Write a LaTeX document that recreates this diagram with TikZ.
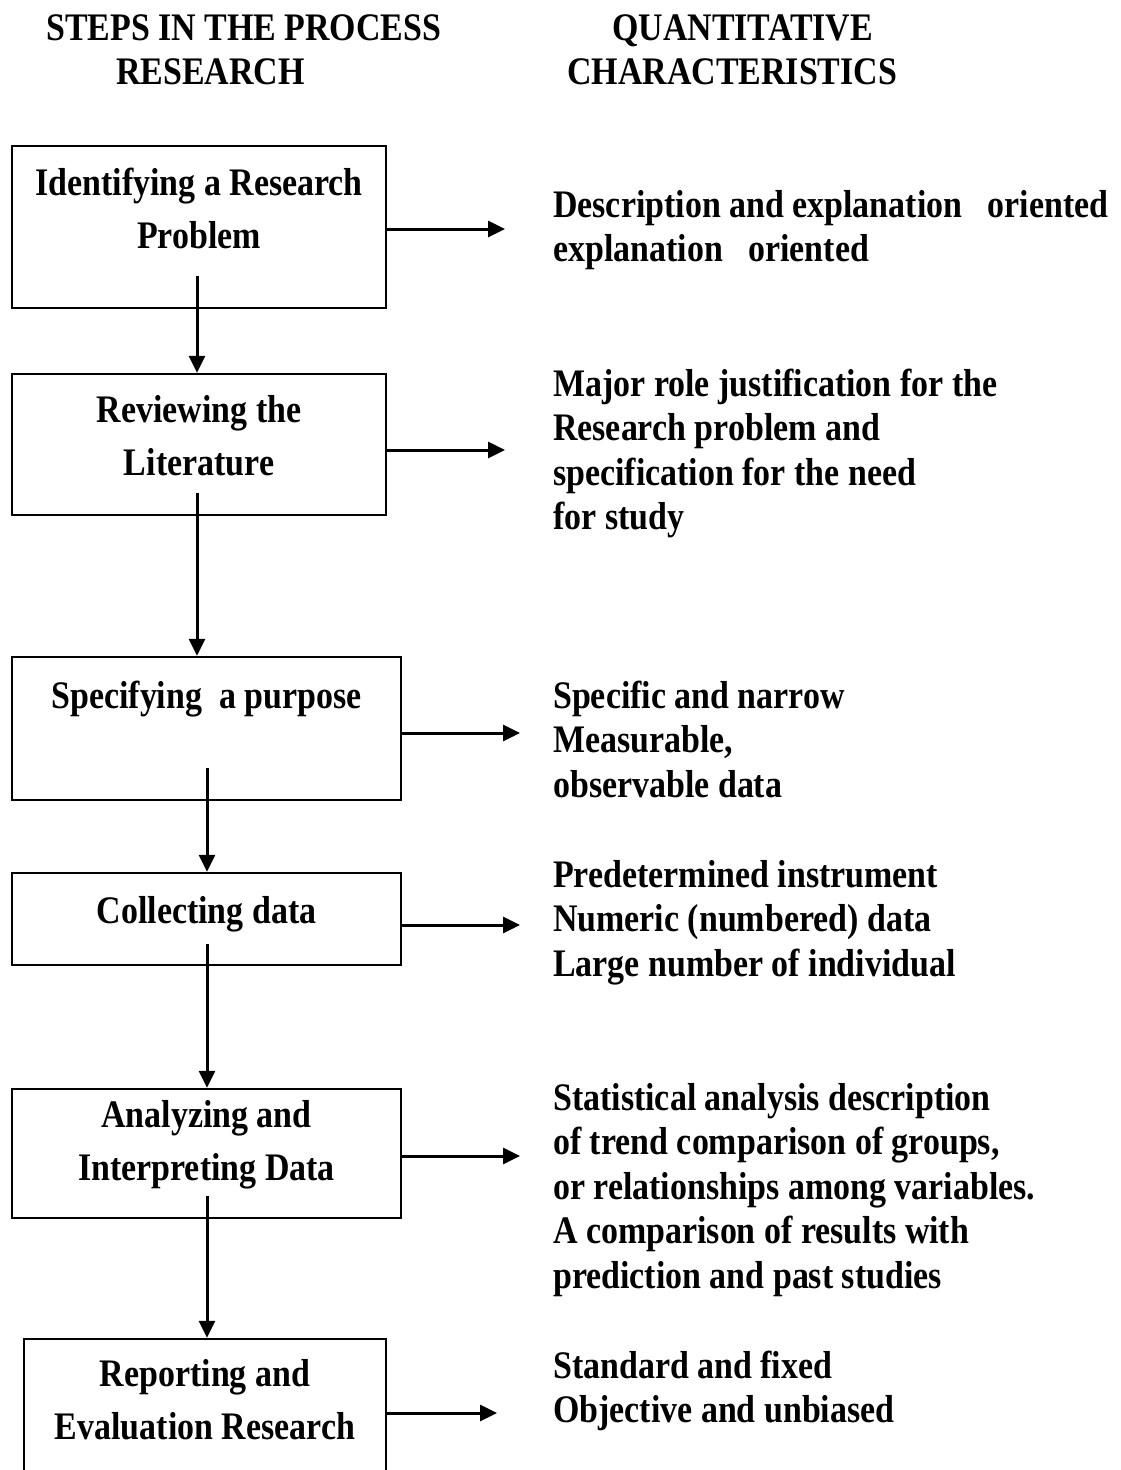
\documentclass[tikz,border=0pt]{standalone}
\usepackage{fontspec}
\setmainfont{Liberation Serif}[FakeStretch=0.87]
\usetikzlibrary{positioning,arrows.meta}

\begin{document}
\begin{tikzpicture}[x=1pt,y=-1pt,
		stepbox/.style={draw, line width=2.5pt, inner sep=0pt},
		steptext/.style={font=\bfseries\fontsize{39}{52.5}\selectfont, align=center, inner sep=0pt, anchor=base},
		chartext/.style={font=\bfseries\fontsize{39}{44.5}\selectfont, align=left, inner sep=0pt, anchor=base west},
		headtext/.style={font=\bfseries\fontsize{39}{44}\selectfont, align=left, inner sep=0pt, anchor=base west},
		arr/.style={-{Triangle[length=17pt,width=16pt]}, line width=3pt}]
	\useasboundingbox (0,0) rectangle (1121,1470);
	\pgfmathsetmacro{\CharX}{553}
	% HEADINGS (anchored at the last line)
	\node[headtext] (steps) at (46,84) {STEPS IN THE PROCESS\\\hspace*{70pt}RESEARCH};
	\node[headtext] (quant) at (567,84) {\hspace*{45pt}QUANTITATIVE\\CHARACTERISTICS};
	% STEP BOXES
	\node[stepbox, minimum width=374, minimum height=162] (s1) at (199,227) {};
	\node[stepbox, minimum width=374, minimum height=141] (s2) at (199,444.5) {};
	\node[stepbox, minimum width=389, minimum height=143] (s3) at (206.5,728.5) {};
	\node[stepbox, minimum width=389, minimum height=92] (s4) at (206.5,919) {};
	\node[stepbox, minimum width=389, minimum height=129] (s5) at (206.5,1153.5) {};
	\node[stepbox, minimum width=362, minimum height=150] (s6) at (205,1414) {};
	\node[steptext] (t1) at (199,248) {Identifying a Research\\Problem};
	\node[steptext] (t2) at (199,475) {Reviewing the\\Literature};
	\node[steptext] (t3) at (206.5,708) {Specifying\ \ a purpose};
	\node[steptext] (t4) at (206.5,923) {Collecting data};
	\node[steptext] (t5) at (206.5,1180) {Analyzing and\\Interpreting Data};
	\node[steptext] (t6) at (205,1439) {Reporting and\\Evaluation Research};
	% CHARACTERISTICS (anchored at the last line)
	\node[chartext] (c1) at (\CharX,261.5) {Description and explanation\ \ \ oriented\\explanation\ \ \ oriented};
	\node[chartext] (c2) at (\CharX,529.5) {Major role justification for the\\Research problem and\\specification for the need\\for study};
	\node[chartext] (c3) at (\CharX,797) {Specific and narrow\\Measurable,\\observable data};
	\node[chartext] (c4) at (\CharX,976) {Predetermined instrument\\Numeric (numbered) data\\Large number of individual};
	\node[chartext] (c5) at (\CharX,1288) {Statistical analysis description\\of trend comparison of groups,\\or relationships among variables.\\A comparison of results with\\prediction and past studies};
	\node[chartext] (c6) at (\CharX,1422.5) {Standard and fixed\\Objective and unbiased};
	% DOWN ARROWS
	\draw[arr] (197,276) -- (s2.north -| 197,0);
	\draw[arr] (197,493) -- (s3.north -| 197,0);
	\draw[arr] (207,768) -- (s4.north -| 207,0);
	\draw[arr] (207,944) -- (s5.north -| 207,0);
	\draw[arr] (207,1196) -- (s6.north -| 207,0);
	% SIDE ARROWS
	\draw[arr] (s1.east |- 0,229) -- (505,229);
	\draw[arr] (s2.east |- 0,450) -- (505,450);
	\draw[arr] (s3.east |- 0,733) -- (520,733);
	\draw[arr] (s4.east |- 0,925) -- (520,925);
	\draw[arr] (s5.east |- 0,1156) -- (520,1156);
	\draw[arr] (s6.east |- 0,1413) -- (497,1413);
\end{tikzpicture}
\end{document}
